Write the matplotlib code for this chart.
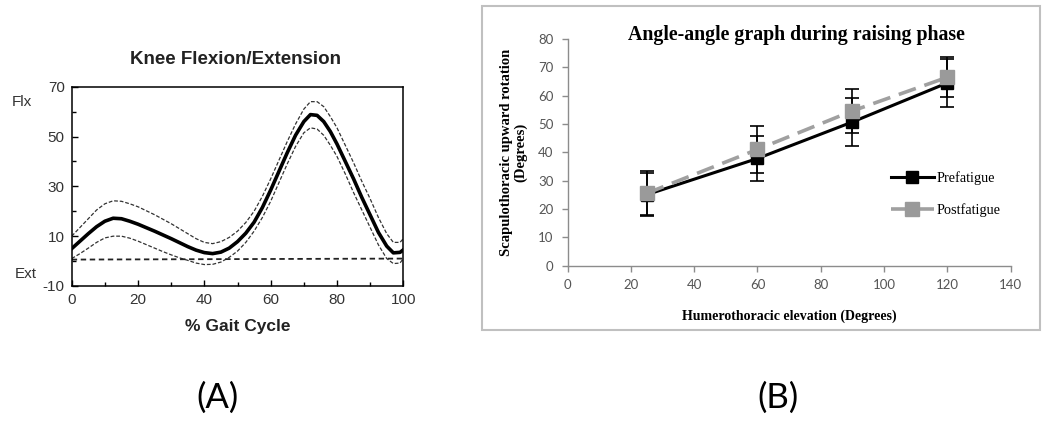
import matplotlib
matplotlib.use("Agg")
import matplotlib.pyplot as plt
from matplotlib.patches import Rectangle

plt.rcParams["axes.unicode_minus"] = False

# panel A: knee flexion/extension over the gait cycle
gait_pct = [0, 2.5, 5, 7.5, 10, 12.5, 15, 17.5, 20, 22.5, 25, 27.5, 30, 32.5, 35, 37.5,
            40, 42.5, 45, 47.5, 50, 52.5, 55, 57.5, 60, 62.5, 65, 67.5, 70, 72, 74, 76,
            78, 80, 82.5, 85, 87.5, 90, 92.5, 95, 97, 99, 100]
knee_mean = [5.0, 8.0, 11.0, 13.8, 16.0, 17.2, 17.0, 16.0, 14.8, 13.4, 12.0, 10.5, 9.0, 7.4, 5.8, 4.4,
             3.4, 3.0, 3.6, 5.2, 7.8, 11.2, 15.6, 21.5, 28.5, 36.0, 43.5, 50.5, 56.0, 58.8, 58.5, 56.0,
             52.0, 47.0, 40.0, 33.0, 25.5, 18.5, 11.5, 6.0, 3.3, 3.5, 4.5]
knee_upper = [10, 13.5, 17, 20.5, 23, 24.2, 24, 23, 21.8, 20.2, 18.6, 16.8, 15, 13, 11, 9,
              7.5, 7, 7.8, 9.5, 12, 15.5, 20, 26, 33, 40.5, 48, 55, 61, 64, 64, 62,
              58, 53.5, 46.5, 39.5, 32, 25, 17.5, 11, 7.5, 7.5, 9]
knee_lower = [1, 3, 5.2, 7.5, 9.3, 10, 10, 9.2, 8, 6.6, 5.2, 3.8, 2.5, 1.3, 0.3, -0.8,
              -1.4, -1.3, -0.4, 1.5, 4, 7.5, 12, 17.5, 24, 31.5, 39, 46, 51.5, 53.5, 53, 50.5,
              46.5, 42, 35, 27.5, 20.5, 13.5, 6.5, 1.0, -1, -0.8, 1]
zero_x = [0, 100]
zero_y = [0.6, 1.0]

# panel B: scapulothoracic upward rotation vs humerothoracic elevation
elevation = [25, 60, 90, 120]
pre_mean = [25, 37.8, 50.7, 64.5]
pre_err = [7.5, 8, 8.5, 8.5]
post_mean = [25.5, 41, 54.6, 66.5]
post_err = [7.8, 8.2, 7.8, 7]

fig = plt.figure(figsize=(10.5, 4.24), dpi=100)

# ---------- (A) ----------
axA = fig.add_axes([0.0683, 0.3255, 0.3158, 0.470])
band = dict(color="#333333", lw=0.9, ls=(0, (3, 1.5)))
axA.plot(gait_pct, knee_upper, **band)
axA.plot(gait_pct, knee_lower, **band)
axA.plot(zero_x, zero_y, color="#222222", lw=1.3, ls=(0, (3, 2)))
axA.plot(gait_pct, knee_mean, color="black", lw=2.6)
axA.set_xlim(0, 100)
axA.set_ylim(-10, 70)
axA.set_xticks([0, 20, 40, 60, 80, 100])
axA.set_xticks([10, 30, 50, 70, 90], minor=True)
axA.set_yticks([-10, 10, 30, 50, 70])
axA.set_yticks([0, 20, 40, 60], minor=True)
axA.tick_params(direction="in", length=4, width=1, labelsize=11, pad=5)
axA.tick_params(which="minor", direction="in", length=3, width=1)
for lab in axA.get_xticklabels() + axA.get_yticklabels():
    lab.set_family("Liberation Sans")
    lab.set_color("#333333")
for s in axA.spines.values():
    s.set_linewidth(1.1)
fig.text(236 / 1050, 1 - 60 / 424, "Knee Flexion/Extension", family="Liberation Sans",
         fontweight="bold", fontsize=13.5, ha="center", va="center", color="#222222")
axA.set_xlabel("% Gait Cycle", family="Liberation Sans", fontweight="bold",
               fontsize=12.5, labelpad=9, color="#222222")
fig.text(12 / 1050, 1 - 102 / 424, "Flx", family="Liberation Sans", fontsize=11,
         va="center", ha="left", color="#333333")
fig.text(15 / 1050, 1 - 274 / 424, "Ext", family="Liberation Sans", fontsize=11,
         va="center", ha="left", color="#333333")

# ---------- (B) ----------
fig.patches.append(Rectangle((482 / 1050, 1 - 330 / 424), 558 / 1050, 324 / 424,
                             transform=fig.transFigure, fill=False,
                             edgecolor="#c0c0c0", lw=1.5))

axB = fig.add_axes([0.5405, 0.3738, 0.4221, 0.5342])
axB.errorbar(elevation, pre_mean, yerr=pre_err, fmt="none", ecolor="black",
             elinewidth=1.2, capsize=5, capthick=1.2, zorder=2)
axB.errorbar(elevation, post_mean, yerr=post_err, fmt="none", ecolor="black",
             elinewidth=1.2, capsize=5, capthick=1.2, zorder=2)
axB.plot(elevation, pre_mean, color="black", lw=2.2, marker="s", ms=9,
         label="Prefatigue", zorder=3)
axB.plot(elevation, post_mean, color="#a0a0a0", lw=2.6, ls=(0, (5, 2.5)),
         marker="s", ms=10, mfc="#9a9a9a", mec="#9a9a9a", label="Postfatigue", zorder=4)
axB.set_xlim(0, 140)
axB.set_ylim(0, 80)
axB.set_xticks(range(0, 141, 20))
axB.set_yticks(range(0, 81, 10))
for side in ["top", "right"]:
    axB.spines[side].set_visible(False)
for side in ["left", "bottom"]:
    axB.spines[side].set_color("#8c8c8c")
    axB.spines[side].set_linewidth(1.0)
axB.tick_params(direction="out", length=4, width=1, color="#8c8c8c",
                labelsize=9.5, labelcolor="#555555", pad=6)
for lab in axB.get_xticklabels() + axB.get_yticklabels():
    lab.set_family("Lato")
fig.text(796 / 1050, 1 - 35 / 424, "Angle-angle graph during raising phase",
         family="Liberation Serif", fontweight="bold", fontsize=14.3,
         ha="center", va="center")
axB.set_xlabel("Humerothoracic elevation (Degrees)", family="Liberation Serif",
               fontweight="bold", fontsize=10, labelpad=13)
axB.set_ylabel("Scapulothoracic upward rotation\n(Degrees)", family="Liberation Serif",
               fontweight="bold", fontsize=10.5, labelpad=8, linespacing=1.1)
leg = axB.legend(loc="upper left", bbox_to_anchor=(0.70, 0.475), frameon=False,
                 prop={"family": "Liberation Serif", "size": 10.3},
                 handlelength=3, handletextpad=0.2, labelspacing=1.3)

fig.text(218 / 1050, 1 - 398 / 424, "(A)", family="Lato", fontsize=25,
         ha="center", va="center")
fig.text(778 / 1050, 1 - 398 / 424, "(B)", family="Lato", fontsize=25,
         ha="center", va="center")

fig.savefig("out.png", dpi=100)
